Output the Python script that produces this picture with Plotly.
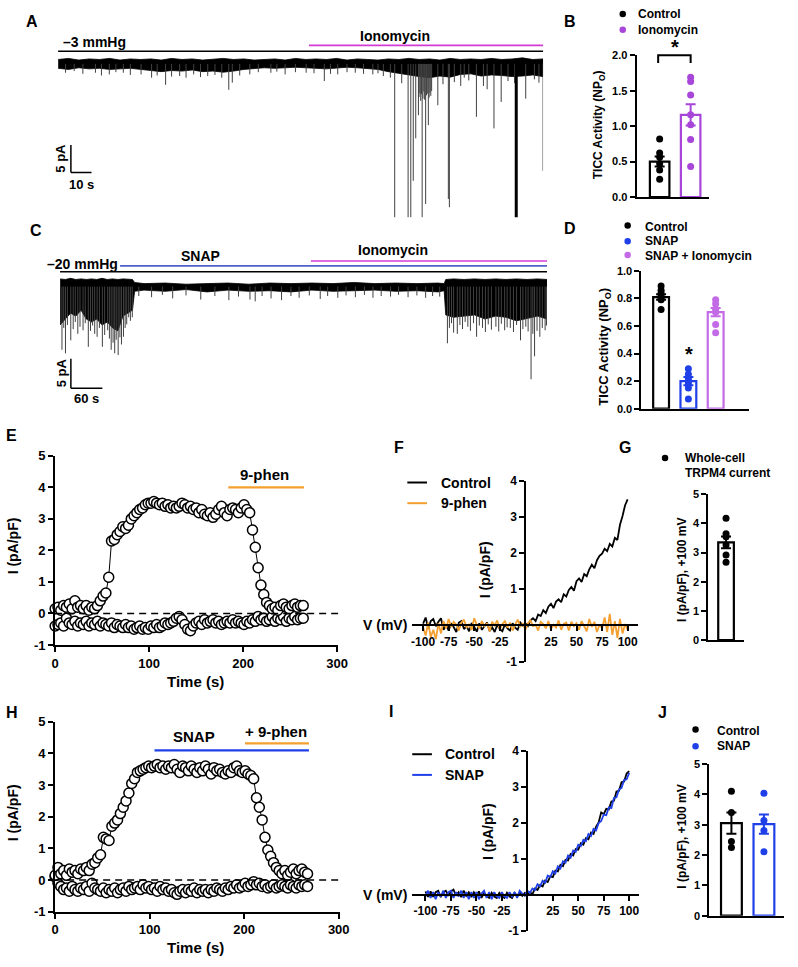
import plotly.graph_objects as go

# ======================= DATA =======================
# ---- Panel A: single-channel trace at -3 mmHg, ionomycin added (time s, current pA)
a_env_t = [0, 5, 10, 15, 20, 25, 30, 35, 40, 45, 50, 55, 60, 65, 70, 75,
           80, 85, 90, 95, 100, 105, 110, 115, 120, 125, 130, 135, 140, 145, 150, 155,
           160, 165, 170, 175, 180, 185, 190, 195, 200, 205, 210, 215, 220, 225, 230, 235]
a_env_top = [0.3, 0.5, 0.2, 0.4, 0.3, 0.5, 0.2, 0.4, 0.3, 0.4, 0.2, 0.5, 0.3, 0.4, 0.2, 0.3,
             0.5, 0.3, 0.4, 0.2, 0.3, 0.4, 0.2, 0.5, 0.3, 0.4, 0.3, 0.5, 0.2, 0.4, 0.3, 0.2,
             0.4, 0.3, 0.5, 0.3, 0.4, 0.2, 0.5, 0.3, 0.4, 0.3, 0.5, 0.3, 0.4, 0.6, 0.3, 0.4]
a_env_bot = [-1.3, -1.5, -1.2, -1.4, -1.3, -1.5, -1.4, -1.3, -1.5, -1.7, -1.9, -1.7, -1.8, -1.6, -1.9, -1.8,
             -2.0, -1.8, -1.5, -1.3, -1.2, -1.3, -1.2, -1.1, -1.2, -1.3, -1.4, -1.2, -1.1, -1.2, -1.3, -1.5,
             -1.9, -2.3, -2.5, -2.8, -3.0, -2.7, -2.9, -2.4, -2.3, -2.7, -2.5, -2.6, -2.8, -2.7, -2.5, -2.8]
a_spk_t = [3.6, 7.8, 12, 18.1, 21, 24.8, 28, 31.6, 35, 40.2, 45.3, 48, 52.1, 55, 58.9, 62, 65.7, 69,
           72.5, 76, 79.3, 82.7, 84.4, 88, 92.9, 97, 103.1, 106, 110, 115, 120.2, 124, 129, 132,
           135.5, 140, 144, 148, 152.5, 155, 157.6, 161,
           163.1, 166.5, 169.6, 170.9, 172.1, 173.3, 174.6, 176.4, 178.1, 179.4, 184, 186.5, 189.1,
           189.6, 192, 195.1, 196.8, 199, 202.7, 206.1, 207.9, 211.2, 214.7, 218, 221.2, 226.6,
           230.8, 233, 235,
           174.9, 175.3, 175.7, 176.1, 176.8, 177.2, 177.6, 178.5, 178.9, 179.8, 180.2, 180.6, 181.0]
a_spk_v = [-2.1, -1.8, -2.3, -2.1, -2.6, -2.4, -2.0, -2.1, -2.5, -2.4, -3.0, -2.6, -4.3, -2.8, -2.7, -3.0, -2.4, -2.9,
           -2.7, -2.5, -3.0, -5.2, -3.9, -2.6, -2.4, -2.0, -2.1, -1.9, -2.4, -2.0, -2.1, -2.2, -3.6, -2.3,
           -2.4, -2.0, -2.1, -2.3, -2.4, -2.2, -2.7, -3.0,
           -28.3, -4.0, -28.3, -28.3, -21.7, -14.0, -9.8, -28.3, -25.9, -11.6, -8.0, -4.2, -25.0,
           -26.5, -3.8, -4.5, -3.0, -3.5, -10.1, -4.5, -5.1, -12.2, -7.4, -3.6, -4.0, -6.8,
           -3.3, -3.9, -19.9,
           -6.5, -5.8, -7.2, -6.0, -6.8, -5.5, -7.0, -6.2, -5.9, -6.6, -5.7, -6.3, -5.4]
a_thick_t = [222.0]
a_thick_v = [-28.3]

# ---- Panel B: TICC activity (NPo)
b_groups = ["Control", "Ionomycin"]
b_mean = [0.50, 1.16]
b_sem = [0.07, 0.15]
b_ctrl_pts = [0.82, 0.62, 0.56, 0.47, 0.38, 0.25]
b_iono_pts = [1.69, 1.63, 1.44, 1.16, 1.02, 0.81, 0.43]

# ---- Panel C: single-channel trace at -20 mmHg, SNAP then ionomycin (time s, current pA)
c_env_t = [0, 10, 20, 30, 40, 50, 60, 70, 80, 90, 100, 110, 120, 130, 138,
           142, 160, 200, 240, 280, 320, 360, 400, 440, 480, 520, 560, 600, 640, 680, 720,
           732,
           735, 750, 770, 790, 810, 830, 850, 870, 890, 910, 928]
c_env_top = [0.3, 0.2, 0.4, 0.2, 0.3, 0.2, 0.3, 0.2, 0.4, 0.2, 0.3, 0.2, 0.3, 0.2, 0.2,
             -0.3, -0.5, -0.4, -0.6, -0.5, -0.4, -0.6, -0.4, -0.5, -0.4, -0.5, -0.3, -0.5, -0.4, -0.5, -0.4,
             -0.5,
             0.2, 0.3, 0.2, 0.3, 0.2, 0.3, 0.2, 0.3, 0.2, 0.3, 0.2]
c_env_bot = [-7.5, -6.5, -5.5, -6.0, -5.0, -6.5, -7.0, -6.5, -7.5, -7.0, -8.0, -8.5, -6.0, -5.5, -5.0,
             -1.8, -1.6, -1.8, -1.5, -1.9, -1.6, -1.8, -1.7, -1.9, -1.6, -1.8, -1.7, -1.6, -1.8, -1.7, -1.9,
             -1.7,
             -5.8, -6.2, -6.0, -5.8, -6.5, -6.0, -6.2, -6.8, -6.4, -6.0, -6.5]
c_spk_t = [3.6, 7, 10.3, 14, 20.4, 25, 29, 33.8, 38, 43.8, 48, 53.8, 58, 62, 66, 70.6, 75, 80.6, 85,
           90.7, 94, 97.4, 101, 104.1, 107, 110.7, 114, 117, 120.8, 124, 127, 130.8, 134, 137.6,
           150, 174.4, 195, 214.6, 240, 268.1, 295, 321.7, 340, 361.9, 371.9, 385, 402.1, 422.1,
           440, 455.6, 475, 495.8, 510, 529.3, 545, 562.8, 580, 596.3, 612, 629.8, 645, 663.2,
           680, 696.7, 710, 723.5,
           738.2, 742, 746, 750, 757, 762, 767, 772, 777.1, 782, 788, 793.8, 799, 805, 810.6, 816,
           822, 830.6, 836, 841, 847.3, 852, 858, 864.1, 870, 877.5, 882, 887.6, 892, 897.6, 901,
           904.3, 909, 914.3, 919, 924.4, 927]
c_spk_v = [-11.7, -8.0, -12.3, -7.5, -10.1, -8.2, -7.0, -9.0, -7.8, -8.4, -7.2, -11.2, -8.5, -7.6, -9.0, -9.5, -8.0, -11.2, -9.2,
           -8.4, -9.8, -11.7, -10.5, -12.3, -10.0, -12.6, -9.6, -10.8, -9.5, -8.0, -7.4, -6.2, -6.8, -6.2,
           -2.6, -2.8, -2.4, -3.0, -2.5, -3.2, -2.6, -3.3, -2.7, -3.2, -3.5, -2.6, -3.0, -3.3,
           -2.6, -2.9, -2.5, -3.1, -2.6, -2.9, -2.5, -2.8, -2.4, -2.9, -2.6, -2.7, -2.4, -2.8,
           -2.5, -2.9, -2.6, -2.7,
           -10.6, -8.0, -7.2, -8.8, -9.0, -7.5, -8.2, -7.0, -7.8, -8.5, -7.2, -9.5, -7.6, -8.0, -8.7, -7.4,
           -8.3, -7.8, -8.6, -7.3, -8.4, -7.9, -8.0, -8.7, -7.5, -10.1, -8.2, -7.8, -8.6, -16.7, -9.0,
           -12.8, -8.5, -9.5, -8.0, -8.4, -7.6]

# ---- Panel D: TICC activity (NPo)
d_groups = ["Control", "SNAP", "SNAP + Ionomycin"]
d_mean = [0.81, 0.20, 0.70]
d_sem = [0.02, 0.03, 0.03]
d_ctrl_pts = [0.89, 0.86, 0.84, 0.82, 0.80, 0.79, 0.72]
d_snap_pts = [0.29, 0.25, 0.22, 0.20, 0.18, 0.15, 0.07]
d_si_pts = [0.79, 0.76, 0.72, 0.70, 0.61, 0.55]

# ---- Panel E: whole-cell current time course (+100 / -100 mV), pA/pF
e_t = list(range(0, 265, 3))
e_pos = [0.15, 0.2, 0.1, 0.25, 0.2, 0.3, 0.15, 0.4, 0.2, 0.25,
         0.15, 0.25, 0.1, 0.2, 0.15, 0.25, 0.4, 0.55, 0.65, 1.15,
         2.3, 2.35, 2.5, 2.6, 2.75, 2.7, 2.8, 3.0, 3.1, 3.2,
         3.3, 3.35, 3.45, 3.5, 3.5, 3.55, 3.5, 3.45, 3.5, 3.4,
         3.45, 3.35, 3.4, 3.35, 3.4, 3.5, 3.45, 3.35, 3.4, 3.3,
         3.35, 3.2, 3.3, 3.15, 3.1, 3.2, 3.05, 3.15, 3.3, 3.4,
         3.2, 3.1, 3.3, 3.35, 3.3, 3.2, 3.35, 3.45, 3.3, 3.2,
         2.65, 2.1, 1.45, 0.9, 0.6, 0.35, 0.25, 0.15, 0.2, 0.1,
         0.25, 0.3, 0.2, 0.15, 0.25, 0.3, 0.2, 0.25, 0.25]
e_neg = [-0.4, -0.35, -0.3, -0.4, -0.15, -0.3, -0.35, -0.25, -0.4, -0.3,
         -0.35, -0.25, -0.4, -0.3, -0.35, -0.25, -0.4, -0.3, -0.35, -0.4,
         -0.3, -0.45, -0.35, -0.4, -0.45, -0.35, -0.45, -0.4, -0.5, -0.45,
         -0.4, -0.5, -0.45, -0.5, -0.4, -0.45, -0.35, -0.45, -0.4, -0.3,
         -0.35, -0.3, -0.25, -0.15, -0.1, -0.2, -0.35, -0.5, -0.55, -0.4,
         -0.3, -0.25, -0.35, -0.2, -0.3, -0.25, -0.2, -0.3, -0.25, -0.35,
         -0.3, -0.25, -0.3, -0.2, -0.3, -0.25, -0.3, -0.35, -0.25, -0.3,
         -0.2, -0.25, -0.1, -0.2, -0.15, -0.25, -0.2, -0.1, -0.25, -0.15,
         -0.2, -0.1, -0.25, -0.15, -0.2, -0.1, -0.2, -0.15, -0.15]

# ---- Panels F and I: I-V relations (mV, pA/pF)
v_mv = [-100 + 2.5 * i for i in range(81)]
f_ctrl = [0.05, 0.22, -0.08, 0.12, 0.18, -0.02, 0.1, 0.2, -0.12, 0.02,
          -0.14, 0.06, -0.05, -0.18, 0.08, 0.12, -0.1, -0.02, -0.16, 0.07,
          -0.04, -0.17, 0.06, -0.12, -0.02, 0.08, -0.15, -0.05, -0.18, 0.02,
          -0.1, -0.16, 0.03, -0.08, -0.14, 0.06, -0.06, -0.12, 0.08, 0.0,
          0.06, -0.02, 0.14, 0.2, 0.12, 0.3, 0.26, 0.42, 0.34, 0.52,
          0.6, 0.48, 0.66, 0.72, 0.64, 0.86, 0.8, 0.98, 1.06, 0.96,
          1.22, 1.3, 1.2, 1.42, 1.36, 1.55, 1.68, 1.58, 1.8, 1.92,
          1.98, 2.12, 2.05, 2.25, 2.18, 2.42, 2.36, 2.78, 3.02, 3.32,
          3.48]
f_9phen = [-0.05, -0.28, 0.08, -0.32, -0.12, -0.38, 0.06, -0.22, 0.12, -0.08,
           0.18, -0.04, 0.1, 0.02, -0.14, 0.08, 0.16, -0.06, 0.04, -0.12,
           0.2, 0.02, -0.08, 0.12, -0.02, 0.06, -0.16, 0.1, 0.0, 0.14,
           -0.12, 0.04, 0.12, -0.06, 0.08, -0.14, 0.02, 0.16, -0.04, 0.06,
           -0.12, 0.06, 0.14, -0.02, 0.02, -0.14, 0.1, 0.04, -0.08, 0.12,
           -0.1, 0.02, -0.06, 0.14, -0.12, 0.04, 0.08, -0.14, 0.1, -0.02,
           0.06, -0.12, 0.12, 0.0, -0.16, 0.18, -0.04, 0.1, -0.18, 0.02,
           -0.08, 0.22, -0.18, 0.32, -0.26, 0.12, -0.34, 0.18, -0.22, 0.04,
           -0.12]
i_ctrl = [0.1, -0.05, 0.1, -0.05, 0.08, 0.12, -0.06, 0.08, 0.12, -0.02,
          0.1, 0.15, -0.02, 0.08, -0.06, 0.12, -0.02, 0.08, -0.06, 0.08,
          -0.02, 0.1, -0.08, 0.06, -0.03, -0.08, 0.06, -0.04, -0.08, 0.06,
          -0.03, -0.08, 0.06, -0.04, -0.08, 0.06, -0.03, 0.07, -0.02, 0.06,
          0.02, 0.08, 0.02, 0.18, 0.14, 0.28, 0.24, 0.4, 0.36, 0.52,
          0.5, 0.68, 0.66, 0.84, 0.8, 0.98, 0.96, 1.14, 1.1, 1.28,
          1.26, 1.44, 1.4, 1.58, 1.55, 1.74, 1.7, 1.9, 2.02, 2.3,
          2.25, 2.4, 2.38, 2.6, 2.62, 2.88, 2.9, 3.14, 3.16, 3.38,
          3.45]
i_snap = [-0.04, 0.12, -0.08, 0.08, -0.12, 0.08, -0.04, 0.12, -0.08, 0.08,
          0.12, -0.08, 0.08, -0.04, 0.12, -0.08, 0.08, -0.12, 0.08, -0.08,
          0.08, -0.12, 0.04, 0.12, -0.08, 0.08, -0.12, 0.08, -0.04, -0.08,
          0.08, -0.04, -0.08, 0.08, -0.04, 0.08, -0.08, 0.12, 0.04, -0.02,
          0.12, 0.06, 0.18, 0.14, 0.3, 0.24, 0.4, 0.34, 0.54, 0.5,
          0.66, 0.6, 0.8, 0.74, 0.94, 0.9, 1.1, 1.04, 1.24, 1.2,
          1.4, 1.36, 1.54, 1.5, 1.7, 1.64, 1.84, 1.8, 2.0, 2.06,
          2.24, 2.22, 2.44, 2.42, 2.7, 2.72, 2.94, 2.98, 3.2, 3.22,
          3.4]
iv_ticks = [-100, -75, -50, -25, 25, 50, 75, 100]
iv_ticktext = ["-100", "-75", "-50", "-25", "25", "50", "75", "100"]
iv_yticks = [-1, 1, 2, 3, 4]
iv_yticktext = ["-1", "1", "2", "3", "4"]

# ---- Panel G: whole-cell TRPM4 current at +100 mV
g_mean = [3.35]
g_sem = [0.2]
g_pts = [4.18, 3.65, 3.54, 3.26, 2.92, 2.67]

# ---- Panel H: time course with SNAP then + 9-phen
h_t = list(range(0, 268, 3))
h_pos = [0.15, 0.4, 0.2, 0.3, 0.15, 0.35, 0.25, 0.3, 0.2, 0.35,
         0.3, 0.4, 0.3, 0.5, 0.55, 0.7, 0.8, 1.35, 1.3, 1.25,
         1.7, 1.8, 1.9, 2.1, 2.3, 2.5, 2.75, 3.05, 3.2, 3.4,
         3.45, 3.5, 3.55, 3.6, 3.55, 3.6, 3.65, 3.55, 3.6, 3.5,
         3.6, 3.55, 3.65, 3.5, 3.4, 3.6, 3.55, 3.45, 3.6, 3.5,
         3.4, 3.55, 3.45, 3.6, 3.5, 3.35, 3.55, 3.45, 3.5, 3.4,
         3.35, 3.45, 3.4, 3.55, 3.6, 3.45, 3.4, 3.45, 3.35, 3.3,
         3.2, 2.6, 2.3, 1.9, 1.35, 0.95, 0.75, 0.55, 0.4, 0.3,
         0.2, 0.3, 0.15, 0.25, 0.35, 0.2, 0.3, 0.35, 0.25, 0.2]
h_neg = [0.1, -0.1, -0.2, -0.3, -0.25, -0.35, -0.2, -0.3, -0.35, -0.25,
         -0.3, -0.2, -0.35, -0.1, -0.25, -0.3, -0.35, -0.25, -0.4, -0.3,
         -0.35, -0.25, -0.4, -0.3, -0.25, -0.35, -0.2, -0.3, -0.25, -0.2,
         -0.3, -0.15, -0.25, -0.2, -0.3, -0.25, -0.35, -0.2, -0.3, -0.25,
         -0.35, -0.3, -0.4, -0.45, -0.35, -0.3, -0.4, -0.3, -0.35, -0.25,
         -0.4, -0.3, -0.35, -0.3, -0.4, -0.3, -0.35, -0.25, -0.3, -0.35,
         -0.25, -0.3, -0.2, -0.25, -0.15, -0.25, -0.2, -0.1, -0.2, -0.15,
         -0.05, -0.15, -0.1, -0.2, -0.15, -0.25, -0.2, -0.15, -0.25, -0.2,
         -0.15, -0.2, -0.25, -0.15, -0.2, -0.25, -0.15, -0.2, -0.15, -0.2]
tc_ticks = [0, 100, 200, 300]
tc_yticks = [-1, 0, 1, 2, 3, 4, 5]
tc_yticktext = ["-1", "0", "1", "2", "3", "4", "5"]

# ---- Panel J: +100 mV current, control vs SNAP
j_mean = [3.05, 3.02]
j_sem = [0.35, 0.32]
j_ctrl_pts = [4.10, 3.40, 2.45, 2.25]
j_snap_pts = [4.04, 3.14, 2.81, 2.11]

# ======================= STYLE / LAYOUT =======================
W, H = 798, 967
FONT = "Liberation Sans"
MAGENTA = "#D43BD4"
PURPLE = "#A746D9"
BLUE = "#1F40E8"
LILAC = "#C36AE6"
ORANGE = "#F4A030"
NAVY = "#4F5FC6"


def PX(x):
    return x / W


def PY(y):
    return 1 - y / H


fig = go.Figure()
axes = {}
annotations = []
shapes = []


def akey(n, k):
    return f"{k}axis" if n == 1 else f"{k}axis{n}"


def tref(n, k):
    return k if n == 1 else f"{k}{n}"


def set_axes(n, xdom, ydom, xr, yr, xo=None, yo=None):
    xa = dict(domain=[PX(xdom[0]), PX(xdom[1])], range=xr, anchor=tref(n, "y"),
              showgrid=False, zeroline=False)
    ya = dict(domain=[PY(ydom[1]), PY(ydom[0])], range=yr, anchor=tref(n, "x"),
              showgrid=False, zeroline=False)
    xa.update(xo or {})
    ya.update(yo or {})
    axes[akey(n, "x")] = xa
    axes[akey(n, "y")] = ya


def vis(size):
    return dict(showline=True, linecolor="black", linewidth=2, ticks="outside", ticklen=5,
                tickwidth=2, tickcolor="black",
                tickfont=dict(family=FONT, size=size, color="black", weight="bold"))


HIDDEN = dict(visible=False)
BARX = dict(showline=True, linecolor="black", linewidth=2, ticks="", showticklabels=False)


def ann(text, x, y, size, xanchor="center", angle=0, color="black"):
    annotations.append(dict(text=text, x=PX(x), y=PY(y), xref="paper", yref="paper",
                            xanchor=xanchor, yanchor="middle", showarrow=False, textangle=angle,
                            font=dict(family=FONT, size=size, color=color, weight="bold")))


def pline(x0, x1, y, color="black", width=1.5):
    shapes.append(dict(type="line", xref="paper", yref="paper", x0=PX(x0), x1=PX(x1),
                       y0=PY(y), y1=PY(y), line=dict(color=color, width=width)))


def dot(cx, cy, color, r=3.3):
    shapes.append(dict(type="circle", xref="paper", yref="paper", x0=PX(cx - r), x1=PX(cx + r),
                       y0=PY(cy + r), y1=PY(cy - r), fillcolor=color, line=dict(width=0)))


def seg(xref, yref, x0, y0, x1, y1, width=1.5, dash="solid"):
    shapes.append(dict(type="line", xref=xref, yref=yref, x0=x0, y0=y0, x1=x1, y1=y1,
                       line=dict(color="black", width=width, dash=dash)))


# ---------- channel traces (A, C)
def channel_trace(n, env_t, top, bot, spk_t, spk_v, base, thick_t=(), thick_v=()):
    xa, ya = tref(n, "x"), tref(n, "y")
    fig.add_trace(go.Scatter(x=env_t + env_t[::-1], y=top + bot[::-1], fill="toself",
                             fillcolor="black", mode="lines", line=dict(color="black", width=0.8),
                             xaxis=xa, yaxis=ya, hoverinfo="skip"))
    xs, ys = [], []
    for t, v in zip(spk_t, spk_v):
        xs += [t, t, None]
        ys += [base, v, None]
    fig.add_trace(go.Scatter(x=xs, y=ys, mode="lines", line=dict(color="#404040", width=1),
                             xaxis=xa, yaxis=ya, hoverinfo="skip"))
    if thick_t:
        xs, ys = [], []
        for t, v in zip(thick_t, thick_v):
            xs += [t, t, None]
            ys += [base, v, None]
        fig.add_trace(go.Scatter(x=xs, y=ys, mode="lines", line=dict(color="black", width=3),
                                 xaxis=xa, yaxis=ya, hoverinfo="skip"))


set_axes(1, (55, 548), (40, 215), [0, 235], [-28.57, 2.68], HIDDEN, HIDDEN)
channel_trace(1, a_env_t, a_env_top, a_env_bot, a_spk_t, a_spk_v, -0.5, a_thick_t, a_thick_v)
seg("x", "y", 6.2, -20.2, 6.2, -15.2)
seg("x", "y", 6.2, -20.2, 16.2, -20.2)

set_axes(3, (57, 552), (270, 390), [0, 928], [-18.67, 1.33], HIDDEN, HIDDEN)
channel_trace(3, c_env_t, c_env_top, c_env_bot, c_spk_t, c_spk_v, -1.0)
seg("x3", "y3", 20.6, -18.2, 20.6, -13.2)
seg("x3", "y3", 20.6, -18.2, 80.6, -18.2)


# ---------- bar panels (B, D, G, J)
def bar_panel(n, means, sems, pts_list, colors, bw):
    xa, ya = tref(n, "x"), tref(n, "y")
    for i, (m, s, pts, c) in enumerate(zip(means, sems, pts_list, colors)):
        fig.add_trace(go.Bar(x=[i], y=[m], width=bw, xaxis=xa, yaxis=ya,
                             marker=dict(color="white", line=dict(color=c, width=2.2))))
        fig.add_trace(go.Scatter(x=[i] * len(pts), y=pts, mode="markers", xaxis=xa, yaxis=ya,
                                 marker=dict(size=7, color=c), cliponaxis=False))
        fig.add_trace(go.Scatter(x=[i], y=[m], mode="markers", xaxis=xa, yaxis=ya,
                                 marker=dict(size=1, color="rgba(0,0,0,0)"),
                                 error_y=dict(type="data", array=[s], color=c, thickness=2, width=5)))


yB = vis(11)
yB.update(tickvals=[0, 0.5, 1.0, 1.5, 2.0], ticktext=["0.0", "0.5", "1.0", "1.5", "2.0"])
set_axes(2, (643, 717), (49, 193), [-0.746, 1.603], [0, 2], BARX, yB)
bar_panel(2, b_mean, b_sem, [b_ctrl_pts, b_iono_pts], ["black", PURPLE], 0.63)

yD = vis(11)
yD.update(tickvals=[0, 0.2, 0.4, 0.6, 0.8, 1.0], ticktext=["0.0", "0.2", "0.4", "0.6", "0.8", "1.0"])
set_axes(4, (648, 757), (268, 408), [-0.72, 3.21], [0, 1], BARX, yD)
bar_panel(4, d_mean, d_sem, [d_ctrl_pts, d_snap_pts, d_si_pts], ["black", BLUE, LILAC], 0.58)

yG = vis(11)
yG.update(tickvals=[0, 1, 2, 3, 4, 5])
set_axes(7, (716, 752), (495, 643), [-0.6, 0.6], [0, 5], BARX, yG)
bar_panel(7, g_mean, g_sem, [g_pts], ["black"], 0.53)

yJ = vis(11)
yJ.update(tickvals=[0, 1, 2, 3, 4, 5])
set_axes(10, (717, 793), (769, 923), [-0.68, 1.62], [0, 5], BARX, yJ)
bar_panel(10, j_mean, j_sem, [j_ctrl_pts, j_snap_pts], ["black", BLUE], 0.64)


# ---------- time courses (E, H)
def time_course(n, t, pos, neg):
    xa, ya = tref(n, "x"), tref(n, "y")
    seg(xa, ya, 0, 0, 302, 0, width=1.5, dash="7px,5px")
    for series in (neg, pos):
        fig.add_trace(go.Scatter(x=t, y=series, mode="lines+markers", xaxis=xa, yaxis=ya,
                                 line=dict(color="black", width=1), cliponaxis=False,
                                 marker=dict(symbol="circle", size=10, color="white",
                                             line=dict(color="black", width=1.5))))


xE = vis(13); xE.update(tickvals=tc_ticks)
yE = vis(13); yE.update(tickvals=tc_yticks, ticktext=tc_yticktext)
set_axes(5, (52, 340), (456, 648), [0, 301.5], [-1, 5], xE, yE)
time_course(5, e_t, e_pos, e_neg)

xH = vis(13); xH.update(tickvals=tc_ticks)
yH = vis(13); yH.update(tickvals=tc_yticks, ticktext=tc_yticktext)
set_axes(8, (52, 342), (726, 919), [0, 301.8], [-1, 5], xH, yH)
time_course(8, h_t, h_pos, h_neg)


# ---------- I-V relations (F, I)
def iv_panel(n, v, curves, colors, xdom, ydom, xr, y0px, x0px):
    xo = vis(12)
    xo.update(anchor="free", position=PY(y0px), tickvals=iv_ticks, ticktext=iv_ticktext)
    yo = vis(12)
    yo.update(anchor="free", position=PX(x0px), tickvals=iv_yticks, ticktext=iv_yticktext)
    set_axes(n, xdom, ydom, xr, [-1, 4], xo, yo)
    for cur, c in zip(curves, colors):
        fig.add_trace(go.Scatter(x=v, y=cur, mode="lines", line=dict(color=c, width=1.8),
                                 xaxis=tref(n, "x"), yaxis=tref(n, "y")))


iv_panel(6, v_mv, [f_ctrl, f_9phen], ["black", ORANGE], (415, 645), (481, 665), [-110.6, 110.6], 628, 530)
iv_panel(9, v_mv, [i_ctrl, i_snap], ["black", BLUE], (415, 646), (756, 938.5), [-113, 110.1], 902, 532)

# ======================= DECORATIONS =======================
for letter, x, y in [("A", 28, 15), ("B", 575, 15), ("C", 33, 227), ("D", 575, 225),
                     ("E", 8, 435), ("F", 402, 447), ("G", 631, 447), ("H", 8, 717),
                     ("I", 393, 716), ("J", 669, 717)]:
    ann(letter, x, y, 16)

# A
ann("\u20133 mmHg", 58, 35.5, 14, xanchor="left")
ann("Ionomycin", 397, 29, 14)
pline(55, 548, 45, "black", 1.5)
pline(310, 548, 39, MAGENTA, 1.6)
ann("5 pA", 58, 154, 13, angle=-90)
ann("10 s", 79, 180, 13)

# B
dot(629, 7, "black"); ann("Control", 642, 7, 12, xanchor="left")
dot(629, 23, PURPLE); ann("Ionomycin", 642, 23, 12, xanchor="left")
ann("TICC Activity (NP<sub>O</sub>)", 605, 120, 12, angle=-90)
shapes.append(dict(type="path", xref="paper", yref="paper",
                   path=f"M {PX(665)} {PY(57)} L {PX(665)} {PY(49)} L {PX(698)} {PY(49)} L {PX(698)} {PY(57)}",
                   line=dict(color="black", width=2)))
ann("*", 682, 41, 20)

# C
ann("\u201320 mmHg", 42, 261.5, 14, xanchor="left")
ann("SNAP", 200, 253, 14)
ann("Ionomycin", 395, 247, 14)
pline(57, 552, 269, "black", 1.5)
pline(118, 552, 263, NAVY, 1.6)
pline(312, 552, 258, MAGENTA, 1.6)
ann("5 pA", 58, 372, 13, angle=-90)
ann("60 s", 84, 398, 13)

# D
dot(634, 222, "black"); ann("Control", 650, 223, 12, xanchor="left")
dot(634, 238, BLUE); ann("SNAP", 650, 238, 12, xanchor="left")
dot(634, 252, LILAC); ann("SNAP + Ionomycin", 650, 253, 12, xanchor="left")
ann("TICC Activity (NP<sub>O</sub>)", 611, 345, 13, angle=-90)
ann("*", 696, 352, 20)

# E
ann("9-phen", 265, 475, 15)
pline(228, 305, 488, ORANGE, 2.2)
ann("I (pA/pF)", 9, 547, 14, angle=-90)
ann("Time (s)", 195, 685, 15)

# F
pline(410, 430, 483, "black", 2)
pline(410, 430, 504, ORANGE, 2)
ann("Control", 442, 483, 14, xanchor="left")
ann("9-phen", 442, 504, 14, xanchor="left")
ann("V (mV)", 412, 628, 14, xanchor="right")
ann("I (pA/pF)", 489, 572, 14, angle=-90)

# G
dot(672, 458, "black")
ann("Whole-cell", 690, 458, 12, xanchor="left")
ann("TRPM4 current", 690, 473, 12, xanchor="left")
ann("I (pA/pF), +100 mV", 689, 572, 12, angle=-90)

# H
ann("SNAP", 193, 741, 15)
pline(153, 310, 755, BLUE, 2.2)
ann("+ 9-phen", 277, 736, 15)
pline(245, 310, 748, ORANGE, 2.2)
ann("I (pA/pF)", 9, 818, 14, angle=-90)
ann("Time (s)", 195, 955, 15)

# I
pline(415, 435, 759, "black", 2)
pline(415, 435, 780, BLUE, 2)
ann("Control", 446, 759, 14, xanchor="left")
ann("SNAP", 446, 780, 14, xanchor="left")
ann("V (mV)", 412, 902, 14, xanchor="right")
ann("I (pA/pF)", 492, 837, 14, angle=-90)

# J
dot(703, 734, "black"); ann("Control", 723, 735, 12, xanchor="left")
dot(703, 751, BLUE); ann("SNAP", 723, 751, 12, xanchor="left")
ann("I (pA/pF), +100 mV", 689, 843, 12, angle=-90)

fig.update_layout(width=W, height=H, margin=dict(l=0, r=0, t=0, b=0),
                  paper_bgcolor="white", plot_bgcolor="rgba(0,0,0,0)",
                  showlegend=False, barmode="overlay",
                  annotations=annotations, shapes=shapes, **axes)

fig.write_html("out.html", config={"displayModeBar": False},
               post_script="document.body.style.margin='0px';")
